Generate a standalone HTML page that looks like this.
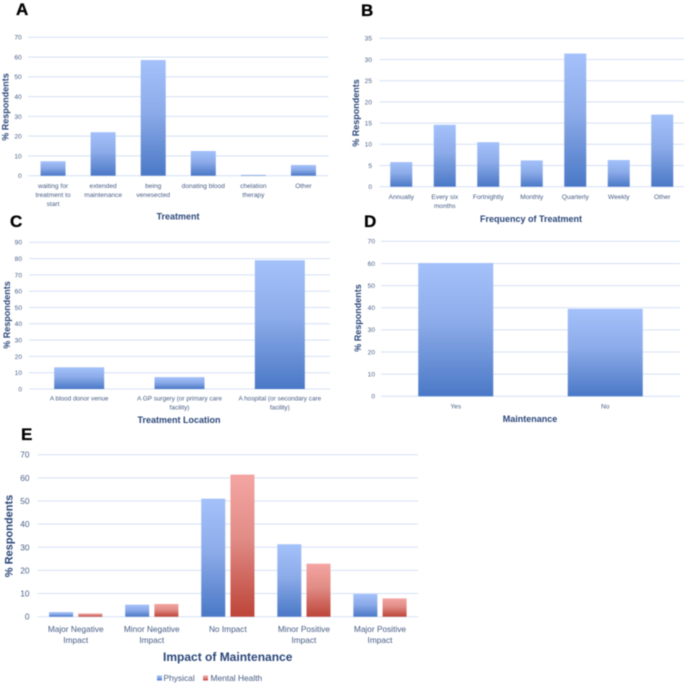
<!DOCTYPE html>
<html lang="en">
<head>
<meta charset="utf-8">
<title>Treatment and maintenance survey charts</title>
<style>
html,body{margin:0;padding:0;background:#fff;width:685px;height:685px;overflow:hidden}
svg{display:block;filter:blur(.45px)}
text{font-family:"Liberation Sans",sans-serif}
.tick{fill:#4b6187}
.cat{fill:#465c84}
.title{fill:#2a4678;font-weight:bold}
.letter{fill:#000;font-weight:bold;stroke:#000;stroke-width:.3px}
</style>
</head>
<body>
<svg id="figure" xmlns="http://www.w3.org/2000/svg" width="685" height="685" viewBox="0 0 685 685">
<defs>
<linearGradient id="gradBlue" x1="0" y1="0" x2="0" y2="1"><stop offset="0" stop-color="#a4c1fa"/><stop offset=".45" stop-color="#8cabe9"/><stop offset="1" stop-color="#4a78c6"/></linearGradient>
<linearGradient id="gradRed" x1="0" y1="0" x2="0" y2="1"><stop offset="0" stop-color="#f4a5a2"/><stop offset=".45" stop-color="#e18c86"/><stop offset="1" stop-color="#bd4438"/></linearGradient>
</defs>
<text class="letter" x="16" y="15" font-size="17">A</text>
<text class="letter" x="361" y="16" font-size="17">B</text>
<text class="letter" x="10" y="227" font-size="17">C</text>
<text class="letter" x="364" y="227" font-size="17">D</text>
<text class="letter" x="21" y="440" font-size="17">E</text>
<g id="legend">
<rect x="157" y="675.5" width="5" height="5" fill="url(#gradBlue)"/>
<text class="cat" x="163.5" y="681" font-size="8.4">Physical</text>
<rect x="203" y="675.5" width="5" height="5" fill="url(#gradRed)"/>
<text class="cat" x="210.5" y="681" font-size="8.4">Mental Health</text>
</g>
</svg>
<script>
const categoriesA = [["waiting for","treatment to","start"],["extended","maintenance"],["being","venesected"],["donating blood"],["chelation","therapy"],["Other"]];
const valuesA = [7.3, 22, 58.5, 12.5, 0.4, 5.4];
const ticksA = [0, 10, 20, 30, 40, 50, 60, 70];

const categoriesB = [["Annually"],["Every six","months"],["Fortnightly"],["Monthly"],["Quarterly"],["Weekly"],["Other"]];
const valuesB = [5.8, 14.6, 10.5, 6.2, 31.4, 6.3, 17];
const ticksB = [0, 5, 10, 15, 20, 25, 30, 35];

const categoriesC = [["A blood donor venue"],["A GP surgery (or primary care","facility)"],["A hospital (or secondary care","facility)"]];
const valuesC = [13.3, 7.3, 79];
const ticksC = [0, 10, 20, 30, 40, 50, 60, 70, 80, 90];

const categoriesD = [["Yes"],["No"]];
const valuesD = [60.2, 39.5];
const ticksD = [0, 10, 20, 30, 40, 50, 60, 70];

const categoriesE = [["Major Negative","Impact"],["Minor Negative","Impact"],["No Impact"],["Minor Positive","Impact"],["Major Positive","Impact"]];
const physicalE = [2, 5.2, 51, 31.3, 9.8];
const mentalE = [1.4, 5.5, 61.4, 22.9, 7.9];
const ticksE = [0, 10, 20, 30, 40, 50, 60, 70];

const NS = 'http://www.w3.org/2000/svg';
const root = document.getElementById('figure');

function mk(parent, tag, attrs, txt) {
  const el = document.createElementNS(NS, tag);
  for (const k in attrs) el.setAttribute(k, attrs[k]);
  if (txt !== undefined) el.textContent = txt;
  parent.appendChild(el);
  return el;
}

function drawChart(cfg) {
  const g = mk(root, 'g', {});
  
  
  const maxTick = Math.max.apply(null, cfg.ticks);
  const yScale = v => cfg.y0 - (v / maxTick) * (cfg.y0 - cfg.yTop);
  const band = (cfg.x1 - cfg.x0) / cfg.categories.length;
  const xScale = i => cfg.x0 + band * (i + 0.5);

  cfg.ticks.forEach(t => {
    const line = mk(g, 'line', {x1: cfg.x0, x2: cfg.x1, y1: yScale(t), y2: yScale(t), stroke: '#d5e1f5', 'stroke-width': 1});
    
    
    const label = mk(g, 'text', {class: 'tick', x: cfg.tickX, y: yScale(t) + cfg.tickSize * 0.36, 'text-anchor': 'end', 'font-size': cfg.tickSize}, String(t));
    
    
  });

  cfg.series.forEach(s => {
    s.values.forEach((v, i) => {
      const top = yScale(v);
      const bar = mk(g, 'rect', {x: xScale(i) + s.offset - cfg.barW / 2, y: top, width: cfg.barW, height: Math.max(cfg.y0 - top, 0.1), fill: s.fill});
      
      
    });
  });

  cfg.categories.forEach((lines, i) => {
    lines.forEach((ln, j) => {
      const label = mk(g, 'text', {class: 'cat', x: xScale(i), y: cfg.catY + j * cfg.catLine, 'text-anchor': 'middle', 'font-size': cfg.catSize}, ln);
      
      
    });
  });

  const xTitle = mk(g, 'text', {class: 'title', x: cfg.titleX, y: cfg.titleY, 'text-anchor': 'middle', 'font-size': cfg.titleSize}, cfg.xTitle);
  
  

  const yTitle = mk(g, 'text', {class: 'title', x: 0, y: 0, 'text-anchor': 'middle', 'font-size': cfg.yTitleSize, transform: 'translate(' + cfg.yTitleX + ' ' + cfg.yTitleY + ') rotate(-90)'}, '% Respondents');
  
  
}

drawChart({id:'treatment', categories:categoriesA, ticks:ticksA, series:[{name:'treatment',values:valuesA,fill:'url(#gradBlue)',offset:0}],
  x0:28, x1:328.5, y0:175.7, yTop:37.3, barW:25, tickX:21.7, tickSize:6.6, catY:188, catLine:9, catSize:6.6,
  xTitle:'Treatment', titleX:178, titleY:219.5, titleSize:9, yTitleX:8.5, yTitleY:107, yTitleSize:9});

drawChart({id:'frequency', categories:categoriesB, ticks:ticksB, series:[{name:'frequency',values:valuesB,fill:'url(#gradBlue)',offset:0}],
  x0:379.5, x1:684, y0:186.7, yTop:38.3, barW:22, tickX:372, tickSize:6.6, catY:199, catLine:9, catSize:6.6,
  xTitle:'Frequency of Treatment', titleX:531, titleY:222, titleSize:9, yTitleX:359, yTitleY:113, yTitleSize:9});

drawChart({id:'location', categories:categoriesC, ticks:ticksC, series:[{name:'location',values:valuesC,fill:'url(#gradBlue)',offset:0}],
  x0:29, x1:330, y0:389, yTop:242.3, barW:50, tickX:22, tickSize:6.6, catY:400.5, catLine:9, catSize:6.4,
  xTitle:'Treatment Location', titleX:179, titleY:423.2, titleSize:9, yTitleX:10, yTitleY:315, yTitleSize:9});

drawChart({id:'maintenance', categories:categoriesD, ticks:ticksD, series:[{name:'maintenance',values:valuesD,fill:'url(#gradBlue)',offset:0}],
  x0:381, x1:680, y0:396.3, yTop:241.3, barW:75, tickX:375, tickSize:6.6, catY:408.5, catLine:9, catSize:6.6,
  xTitle:'Maintenance', titleX:530, titleY:422, titleSize:9, yTitleX:361, yTitleY:318, yTitleSize:9});

drawChart({id:'impact', categories:categoriesE, ticks:ticksE, series:[
    {name:'physical',values:physicalE,fill:'url(#gradBlue)',offset:-14.6},
    {name:'mental-health',values:mentalE,fill:'url(#gradRed)',offset:14.6}],
  x0:37.7, x1:418, y0:616.7, yTop:454.7, barW:24, tickX:29.5, tickSize:8.3, catY:632, catLine:11.2, catSize:8.3,
  xTitle:'Impact of Maintenance', titleX:227.7, titleY:661, titleSize:12, yTitleX:12.5, yTitleY:536, yTitleSize:11});
</script>
</body>
</html>
